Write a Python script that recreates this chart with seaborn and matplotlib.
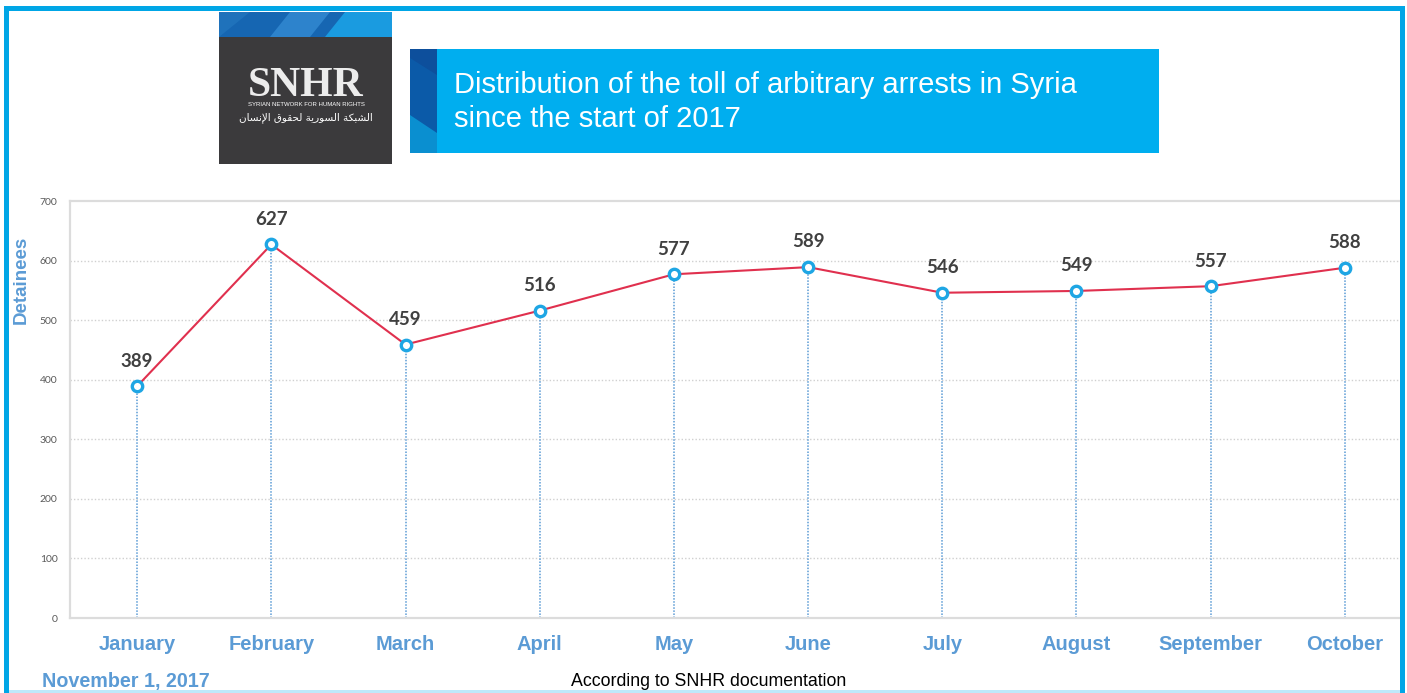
import matplotlib
matplotlib.use("Agg")
import matplotlib.pyplot as plt
from matplotlib.patches import Rectangle, Polygon
import seaborn as sns
import pandas as pd

# Monthly toll of arbitrary arrests, 2017
months = ["January", "February", "March", "April", "May", "June",
          "July", "August", "September", "October"]
detainees = [389, 627, 459, 516, 577, 589, 546, 549, 557, 588]
y_ticks = [0, 100, 200, 300, 400, 500, 600, 700]

title_lines = ["Distribution of the toll of arbitrary arrests in Syria",
               "since the start of 2017"]
y_title = "Detainees"
date_text = "November 1, 2017"
source_text = "According to SNHR documentation"
logo_text = "SNHR"
logo_sub = "SYRIAN NETWORK FOR HUMAN RIGHTS"

# Arabic name, written with presentation forms in display order
_words = [
    "\uFE8D\uFEDF\uFEB8\uFE92\uFEDC\uFE94",          # الشبكة
    "\uFE8D\uFEDF\uFEB4\uFEEE\uFEAD\uFEF3\uFE94",    # السورية
    "\uFEDF\uFEA4\uFED8\uFEEE\uFED5",                # لحقوق
    "\uFE8D\uFEF9\uFEE7\uFEB4\uFE8E\uFEE5",          # الإنسان
]
logo_arabic = " ".join(w[::-1] for w in reversed(_words))

W, H = 1407, 693
sns.set_theme(style="white")
plt.rcParams["font.family"] = ["Liberation Sans", "DejaVu Sans"]

fig = plt.figure(figsize=(W / 100, H / 100), dpi=100)
fig.patch.set_facecolor("white")


def fx(x):
    return x / W


def fy(y):
    return 1 - y / H


def rect_px(x0, y0, x1, y1, **kw):
    return Rectangle((fx(x0), fy(y1)), fx(x1) - fx(x0), fy(y0) - fy(y1),
                     transform=fig.transFigure, **kw)


def poly_px(pts, **kw):
    return Polygon([(fx(x), fy(y)) for x, y in pts], closed=True,
                   transform=fig.transFigure, **kw)


# ---- chart axes ----
ax_l, ax_r, ax_t, ax_b = 70, 1412, 201, 618
ax = fig.add_axes([fx(ax_l), fy(ax_b), fx(ax_r) - fx(ax_l), fy(ax_t) - fy(ax_b)])

df = pd.DataFrame({"pos": range(len(months)), "month": months, "value": detainees})

line_blue = "#5b9bd5"
ax.vlines(df["pos"], 0, df["value"], colors=line_blue, linestyles=(0, (1, 1)),
          linewidth=1.1, zorder=2)
sns.lineplot(data=df, x="pos", y="value", ax=ax, color="#e0304e", linewidth=1.5,
             marker="o", markersize=7.5, markerfacecolor="white",
             markeredgecolor="#1ea6e4", markeredgewidth=2.4, zorder=4)

for p, v in zip(df["pos"], df["value"]):
    ax.annotate(str(v), (p, v), xytext=(0, 12), textcoords="offset points",
                ha="center", va="bottom", fontsize=13.5, fontweight="bold",
                color="#404040", family=["Lato", "DejaVu Sans"])

ax.set_xlim(-0.5, len(months) - 0.5)
ax.set_ylim(0, 700)
ax.set_yticks(y_ticks)
ax.set_yticklabels([str(t) for t in y_ticks], fontsize=7.5, color="#595959",
                   family=["Lato", "DejaVu Sans"])
ax.tick_params(axis="y", length=0, pad=9)
ax.set_xticks(df["pos"])
ax.set_xticklabels(months, fontsize=14.5, fontweight="bold", color=line_blue)
ax.set_xticks([i - 0.5 for i in range(len(months) + 1)], minor=True)
ax.tick_params(axis="x", which="major", length=0, pad=12)
ax.tick_params(axis="x", which="minor", length=5, width=1.2, color="#d9d9d9",
               direction="out")
ax.set_xlabel("")
ax.set_ylabel("")
for yv in y_ticks[1:-1]:
    ax.axhline(yv, color="#d0d0d0", linestyle=(0, (1, 1.5)), linewidth=1.0,
               zorder=1)
for s in ax.spines.values():
    s.set_color("#dcdcdc")
    s.set_linewidth(1.6)
ax.spines["right"].set_visible(False)
ax.grid(False)

fig.text(fx(21), fy(280), y_title, rotation=90, ha="center", va="center",
         fontsize=13.5, fontweight="bold", color=line_blue)

# ---- outer frame ----
frame_blue = "#00a6e6"
fig.patches.append(rect_px(0, 0, 4, H, facecolor="white", edgecolor="none", zorder=9))
fig.patches.append(rect_px(1405, 0, W, H, facecolor="white", edgecolor="none", zorder=9))
fig.patches.append(rect_px(0, 0, W, 6, facecolor="white", edgecolor="none", zorder=9))
fig.patches.append(rect_px(4, 6, 1405, 11, facecolor=frame_blue, edgecolor="none", zorder=10))
fig.patches.append(rect_px(4, 6, 9, H, facecolor=frame_blue, edgecolor="none", zorder=10))
fig.patches.append(rect_px(1400, 6, 1405, H, facecolor=frame_blue, edgecolor="none", zorder=10))
fig.patches.append(rect_px(9, 690, 1400, H, facecolor="#bfe9fa", edgecolor="none", zorder=10))

# ---- logo block ----
fig.patches.append(rect_px(219, 12, 392, 164, facecolor="#3b3a3c", edgecolor="none", zorder=11))
fig.patches.append(rect_px(219, 12, 392, 37, facecolor="#1666b2", edgecolor="none", zorder=11))
fig.patches.append(poly_px([(270, 37), (290, 12), (330, 12), (310, 37)],
                           facecolor="#2d83cc", edgecolor="none", zorder=12))
fig.patches.append(poly_px([(325, 37), (345, 12), (392, 12), (392, 37)],
                           facecolor="#1a9be0", edgecolor="none", zorder=12))
fig.patches.append(poly_px([(219, 37), (219, 12), (250, 12)],
                           facecolor="#1f72bb", edgecolor="none", zorder=12))
fig.text(fx(306), fy(86), logo_text, ha="center", va="center", fontsize=30,
         fontweight="bold", color="#ececec", family=["Liberation Serif", "DejaVu Serif"],
         zorder=13)
fig.text(fx(306), fy(105), logo_sub, ha="center", va="center", fontsize=4.3,
         color="white", zorder=13, family=["Liberation Sans Narrow", "Liberation Sans"])
fig.text(fx(306), fy(118), logo_arabic, ha="center", va="center", fontsize=7.5,
         color="white", zorder=13, family=["DejaVu Sans"])

# ---- title banner ----
fig.patches.append(rect_px(410, 49, 1159, 153, facecolor="#00aeef", edgecolor="none", zorder=11))
fig.patches.append(rect_px(410, 49, 437, 153, facecolor="#0a8fd0", edgecolor="none", zorder=12))
fig.patches.append(poly_px([(410, 49), (437, 49), (437, 133), (410, 115)],
                           facecolor="#0b5aa8", edgecolor="none", zorder=12))
fig.patches.append(poly_px([(410, 58), (437, 75), (437, 49), (410, 49)],
                           facecolor="#0d4f9c", edgecolor="none", zorder=12))
fig.text(fx(454), fy(85), title_lines[0], ha="left", va="center", fontsize=21,
         color="white", zorder=13)
fig.text(fx(454), fy(119), title_lines[1], ha="left", va="center", fontsize=21,
         color="white", zorder=13)

# ---- footer ----
fig.text(fx(42), fy(681), date_text, ha="left", va="center", fontsize=14.2,
         fontweight="bold", color=line_blue, zorder=13)
fig.text(fx(709), fy(682), source_text, ha="center", va="center", fontsize=12.8,
         color="black", zorder=13)

fig.savefig("out.png", dpi=100)
